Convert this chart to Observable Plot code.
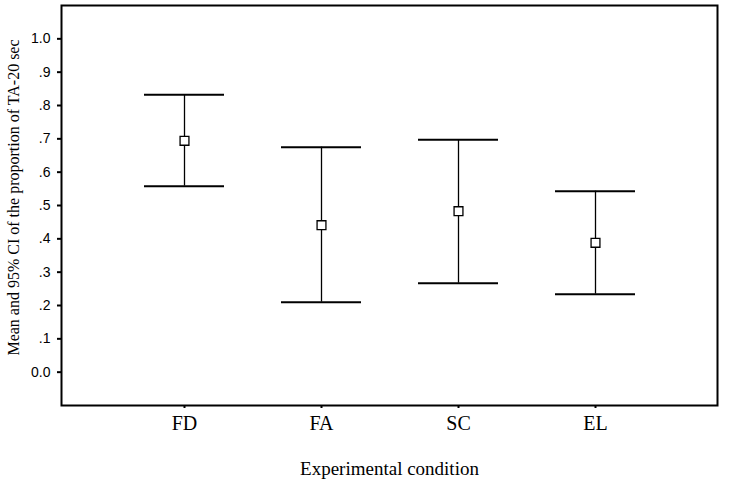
<!DOCTYPE html>
<html>
<head>
<meta charset="utf-8">
<script src="https://cdn.jsdelivr.net/npm/d3@7"></script>
<script src="https://cdn.jsdelivr.net/npm/@observablehq/plot@0.6"></script>
<style>
  html, body { margin: 0; padding: 0; background: #fff; }
  #chart svg { display: block; }
</style>
</head>
<body>
<div id="chart"></div>
<script>
// Data
const conditions = ["FD", "FA", "SC", "EL"];
const means  = [0.694, 0.441, 0.483, 0.388];
const lower  = [0.558, 0.210, 0.267, 0.234];
const upper  = [0.832, 0.675, 0.697, 0.543];
const yTicks = [0, 0.1, 0.2, 0.3, 0.4, 0.5, 0.6, 0.7, 0.8, 0.9, 1.0];
const yLabel = "Mean and 95% CI of the proportion of TA-20 sec";
const xLabel = "Experimental condition";

const rows = conditions.map((c, i) => ({cond: c, mean: means[i], lo: lower[i], hi: upper[i]}));
const fmt = d => (d === 0 ? "0.0" : d === 1 ? "1.0" : d.toFixed(1).replace(/^0/, ""));

const chart = Plot.plot({
  width: 729,
  height: 482,
  marginLeft: 61,
  marginRight: 12,
  marginTop: 5,
  marginBottom: 77,
  style: {background: "#fff", color: "#000"},
  x: {type: "band", domain: conditions, paddingInner: 0.419, paddingOuter: 0.59, align: 0.5, label: null},
  y: {domain: [-0.1, 1.1], label: null},
  marks: [
    Plot.frame({stroke: "#000", strokeWidth: 2}),
    Plot.axisY({ticks: yTicks, tickFormat: fmt, tickSize: 4, tickPadding: 7, label: null,
                fontFamily: "Liberation Sans, Arial, sans-serif", fontSize: 14, strokeWidth: 2}),
    Plot.axisX({tickSize: 3, tickPadding: 7, label: null,
                fontFamily: "Liberation Serif, Times New Roman, serif", fontSize: 20, strokeWidth: 2}),
    Plot.ruleX(rows, {x: "cond", y1: "lo", y2: "hi", stroke: "#000", strokeWidth: 1.3}),
    Plot.tickY(rows, {x: "cond", y: "hi", stroke: "#000", strokeWidth: 2}),
    Plot.tickY(rows, {x: "cond", y: "lo", stroke: "#000", strokeWidth: 2}),
    Plot.dot(rows, {x: "cond", y: "mean", symbol: "square", r: 5, fill: "#fff", stroke: "#000", strokeWidth: 1.3}),
    Plot.text([yLabel], {frameAnchor: "left", textAnchor: "middle", rotate: -90, dx: -48, dy: -8,
                fontFamily: "Liberation Serif, Times New Roman, serif", fontSize: 16, fill: "#000"}),
    Plot.text([xLabel], {frameAnchor: "bottom", textAnchor: "middle", dy: 69,
                fontFamily: "Liberation Serif, Times New Roman, serif", fontSize: 19, fill: "#000"})
  ]
});
document.getElementById("chart").appendChild(chart);
</script>
</body>
</html>
